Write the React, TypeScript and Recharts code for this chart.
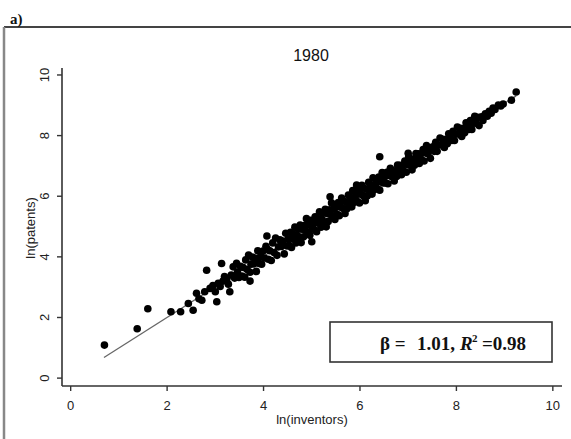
import React from 'react';
import { ScatterChart, Scatter, XAxis, YAxis } from 'recharts';

const xTicks = [0, 2, 4, 6, 8, 10];
const yTicks = [0, 2, 4, 6, 8, 10];
const panelLabel = 'a)';
const chartTitle = '1980';
const xTitle = 'ln(inventors)';
const yTitle = 'ln(patents)';
const betaText = '1.01,';
const r2Text = '=0.98';

// ln(inventors), ln(patents) pairs
const tailPoints: [number, number][] = [
  [0.70, 1.09], [1.38, 1.63], [1.60, 2.29], [2.08, 2.19], [2.28, 2.19], [2.44, 2.46],
  [2.54, 2.24], [2.61, 2.80], [2.72, 2.57], [2.82, 3.56], [2.89, 2.96], [3.03, 2.52],
  [3.06, 3.13], [3.13, 3.78], [3.24, 3.29], [3.30, 2.85], [3.37, 3.67], [3.44, 3.79],
  [3.72, 3.20], [2.66, 2.62], [2.78, 2.85], [2.95, 3.05], [3.00, 2.85], [3.10, 3.02],
  [3.16, 3.20], [3.19, 3.35], [3.27, 3.10], [3.33, 3.40], [3.40, 3.30], [3.46, 3.50],
  [3.49, 3.32],
];

const pointsFrom35: [number, number][] = [
  [3.52, 3.69], [3.55, 3.37], [3.58, 3.65], [3.61, 3.33], [3.63, 3.90], [3.66, 3.58],
  [3.69, 4.06], [3.72, 3.49], [3.74, 3.76], [3.77, 3.99], [3.80, 3.77], [3.83, 3.95],
  [3.85, 3.52], [3.88, 4.20], [3.91, 3.78], [3.94, 4.01], [3.96, 3.76], [3.99, 4.19],
  [4.02, 3.96], [4.05, 4.35], [4.08, 4.25], [4.10, 3.92], [4.13, 4.20], [4.16, 3.88],
  [4.19, 4.46], [4.22, 4.14], [4.25, 4.62], [4.28, 4.05], [4.31, 4.33], [4.34, 4.56],
  [4.37, 4.34], [4.40, 4.52], [4.43, 4.10], [4.46, 4.78], [4.49, 4.36], [4.07, 4.69],
];

const pointsFrom45: [number, number][] = [
  [4.51, 4.59], [4.53, 4.38], [4.56, 4.81], [4.58, 4.31], [4.60, 4.75], [4.62, 4.59],
  [4.65, 4.98], [4.67, 4.46], [4.69, 4.72], [4.71, 4.92], [4.74, 4.65], [4.76, 5.05],
  [4.78, 4.47], [4.80, 4.91], [4.83, 4.66], [4.85, 5.03], [4.87, 4.88], [4.89, 5.26],
  [4.92, 4.80], [4.94, 5.07], [4.96, 4.71], [4.98, 5.21], [5.01, 4.96], [5.03, 5.11],
  [5.05, 4.90], [5.07, 5.32], [5.10, 4.83], [5.12, 5.27], [5.14, 5.11], [5.16, 5.49],
  [5.19, 4.98], [5.21, 5.24], [5.23, 5.44], [5.25, 5.16], [5.28, 5.57], [5.30, 4.99],
  [5.32, 5.43], [5.34, 5.17], [5.37, 5.55], [5.39, 5.40], [5.41, 5.78], [5.43, 5.31],
  [5.46, 5.59], [5.48, 5.23], [5.00, 4.50], [5.38, 5.98],
];

const pointsFrom55: [number, number][] = [
  [5.50, 5.64], [5.52, 5.41], [5.55, 5.79], [5.57, 5.36], [5.59, 5.65], [5.62, 5.94],
  [5.64, 5.60], [5.66, 5.85], [5.69, 5.43], [5.71, 5.81], [5.73, 5.59], [5.76, 6.04],
  [5.78, 5.78], [5.80, 5.96], [5.83, 5.65], [5.85, 6.19], [5.87, 5.79], [5.90, 5.98],
  [5.92, 6.06], [5.94, 5.83], [5.97, 6.21], [5.99, 5.78], [6.01, 6.07], [6.04, 6.36],
  [6.06, 6.02], [6.08, 6.27], [6.11, 5.85], [6.13, 6.23], [6.15, 6.01], [6.18, 6.46],
  [6.20, 6.20], [6.22, 6.38], [6.25, 6.07], [6.27, 6.61], [6.29, 6.21], [6.32, 6.40],
  [6.34, 6.48], [6.36, 6.25], [6.39, 6.63], [6.41, 6.20], [6.43, 6.49], [6.46, 6.78],
  [6.48, 6.44], [5.93, 6.37], [6.41, 7.30],
];

const pointsFrom65: [number, number][] = [
  [6.51, 6.64], [6.53, 6.44], [6.56, 6.79], [6.58, 6.41], [6.61, 6.68], [6.63, 6.92],
  [6.66, 6.65], [6.68, 6.85], [6.71, 6.50], [6.73, 6.82], [6.76, 6.65], [6.78, 7.03],
  [6.81, 6.84], [6.83, 7.02], [6.86, 6.71], [6.88, 7.01], [6.91, 6.82], [6.93, 7.16],
  [6.96, 6.79], [6.98, 7.05], [7.01, 7.30], [7.03, 7.02], [7.06, 7.23], [7.08, 6.87],
  [7.11, 7.20], [7.13, 7.02], [7.16, 7.41], [7.18, 7.21], [7.21, 7.40], [7.23, 7.08],
  [7.26, 7.39], [7.28, 7.19], [7.31, 7.54], [7.33, 7.16], [7.36, 7.43], [7.38, 7.67],
  [7.41, 7.40], [7.43, 7.60], [7.46, 7.25], [7.48, 7.57], [7.00, 7.42],
];

const pointsFrom75: [number, number][] = [
  [7.51, 7.63], [7.54, 7.48], [7.57, 7.78], [7.60, 7.48], [7.63, 7.69], [7.66, 7.92],
  [7.69, 7.69], [7.72, 7.88], [7.75, 7.61], [7.78, 7.87], [7.81, 7.73], [7.84, 8.06],
  [7.87, 7.99], [7.90, 7.84], [7.93, 8.14], [7.96, 7.84], [7.99, 8.05], [8.02, 8.28],
  [8.05, 8.05], [8.08, 8.24], [8.11, 7.97], [8.14, 8.23], [8.17, 8.09], [8.20, 8.42],
  [8.23, 8.35], [8.26, 8.20], [8.29, 8.50], [8.32, 8.20], [8.35, 8.41], [8.38, 8.64],
  [8.41, 8.41], [8.44, 8.60], [8.47, 8.33],
];

const topPoints: [number, number][] = [
  [8.52, 8.62], [8.55, 8.50], [8.60, 8.72], [8.64, 8.64], [8.68, 8.80], [8.72, 8.74],
  [8.76, 8.91], [8.80, 8.86], [8.87, 9.01], [8.92, 8.98], [8.97, 9.04], [9.14, 9.17],
  [9.24, 9.44],
];

const fitLine = [
  { x: 0.69, y: 0.68 },
  { x: 9.24, y: 9.31 },
];

const scatterData = [
  ...tailPoints, ...pointsFrom35, ...pointsFrom45, ...pointsFrom55,
  ...pointsFrom65, ...pointsFrom75, ...topPoints,
].map(([x, y]) => ({ x, y }));

const SANS = '"Liberation Sans", Arial, sans-serif';
const SERIF = '"Liberation Serif", "Times New Roman", serif';

const DotShape = (props: any) => (
  <circle cx={props.cx} cy={props.cy} r={3.8} fill="#000" />
);
const NoShape = () => <g />;

const XTick = (props: any) => {
  const { x, y, payload } = props;
  return (
    <text x={x} y={y + 17} textAnchor="middle" fontFamily={SANS} fontSize={13} fill="#222">
      {payload.value}
    </text>
  );
};

const YTick = (props: any) => {
  const { x, y, payload } = props;
  const bx = x - 6;
  return (
    <text
      x={bx}
      y={y}
      transform={`rotate(-90, ${bx}, ${y})`}
      textAnchor="middle"
      fontFamily={SANS}
      fontSize={13}
      fill="#222"
    >
      {payload.value}
    </text>
  );
};

export default function App() {
  return (
    <div style={{ position: 'absolute', left: 0, top: 0, width: 571, height: 439, background: '#fff' }}>
      <ScatterChart width={571} height={439} margin={{ top: 68, right: 9, bottom: 0, left: 0 }}>
        <XAxis
          type="number"
          dataKey="x"
          domain={[-0.18, 10.19]}
          ticks={xTicks}
          allowDataOverflow
          height={53}
          tickSize={5}
          tickMargin={2}
          axisLine={{ stroke: '#333', strokeWidth: 1.6 }}
          tickLine={{ stroke: '#333', strokeWidth: 1.4 }}
          tick={<XTick />}
        />
        <YAxis
          type="number"
          dataKey="y"
          domain={[-0.26, 10.23]}
          ticks={yTicks}
          allowDataOverflow
          width={62}
          tickSize={5}
          tickMargin={2}
          axisLine={{ stroke: '#333', strokeWidth: 1.6 }}
          tickLine={{ stroke: '#333', strokeWidth: 1.4 }}
          tick={<YTick />}
        />
        <Scatter
          data={fitLine}
          line={{ stroke: '#666', strokeWidth: 1.3 }}
          shape={<NoShape />}
          isAnimationActive={false}
        />
        <Scatter data={scatterData} shape={<DotShape />} isAnimationActive={false} />
      </ScatterChart>
      <svg
        width={571}
        height={439}
        style={{ position: 'absolute', left: 0, top: 0, pointerEvents: 'none' }}
      >
        <line x1={4} y1={27} x2={571} y2={27} stroke="#444" strokeWidth={2} />
        <line x1={4} y1={27} x2={4} y2={439} stroke="#888" strokeWidth={2.5} />
        <text x={10} y={24} fontFamily={SERIF} fontWeight="bold" fontSize={15} fill="#111">
          {panelLabel}
        </text>
        <text x={311} y={61} textAnchor="middle" fontFamily={SANS} fontSize={16} fill="#111">
          {chartTitle}
        </text>
        <text
          transform="translate(35,228) rotate(-90)"
          textAnchor="middle"
          fontFamily={SANS}
          fontSize={13}
          fill="#222"
        >
          {yTitle}
        </text>
        <text x={312} y={424} textAnchor="middle" fontFamily={SANS} fontSize={13} fill="#222">
          {xTitle}
        </text>
        <rect x={330} y={322} width={222} height={40} fill="#fff" stroke="#333" strokeWidth={1.6} />
        <text fontFamily={SERIF} fontWeight="bold" fontSize={19} fill="#111">
          <tspan x={380} y={350}>β =</tspan>
          <tspan x={417} y={350}>{betaText}</tspan>
          <tspan x={460} y={350} fontStyle="italic">R</tspan>
          <tspan x={472} y={342} fontSize={11}>2</tspan>
          <tspan x={482} y={350}>{r2Text}</tspan>
        </text>
      </svg>
    </div>
  );
}
